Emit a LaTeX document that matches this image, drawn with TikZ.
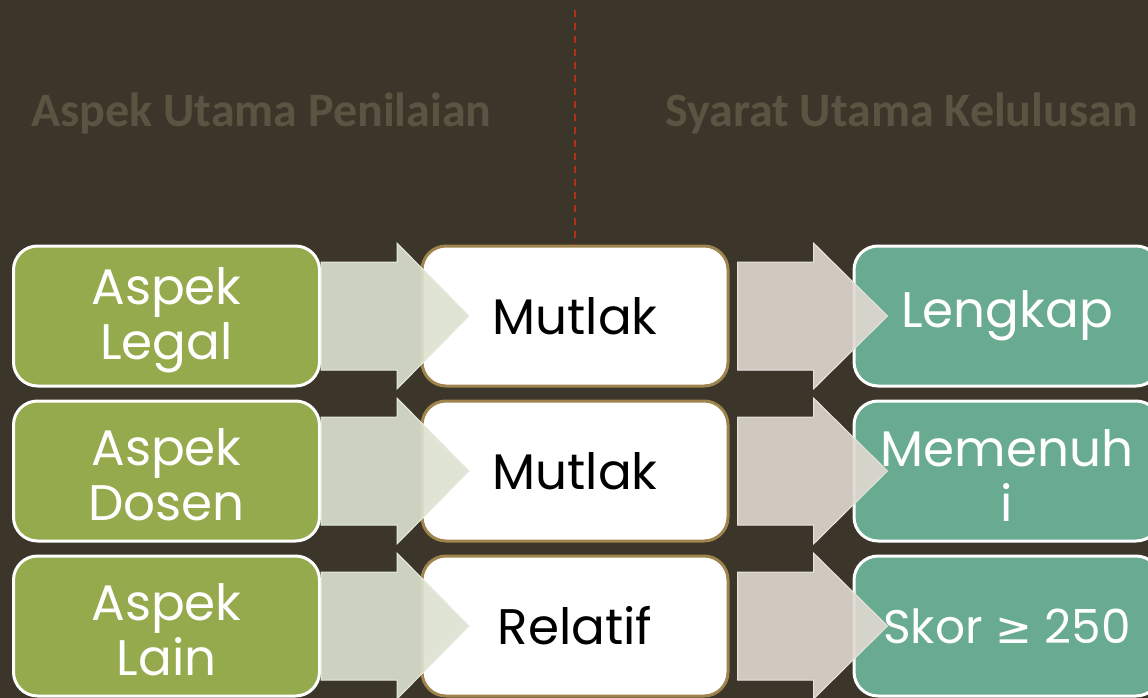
\documentclass[tikz,border=0pt]{standalone}
\usepackage{fontspec}
\setmainfont{Poppins}
\newfontfamily\titlefont{Carlito}
\newfontfamily\symfont{DejaVu Sans}
\usetikzlibrary{calc}
\definecolor{bgc}{RGB}{59,54,41}
\definecolor{titlec}{RGB}{91,84,67}
\definecolor{greenc}{RGB}{148,170,76}
\definecolor{tealc}{RGB}{104,171,145}
\definecolor{brownc}{RGB}{160,132,78}
\definecolor{dashc}{RGB}{175,50,25}
\definecolor{arrowa}{RGB}{221,226,209}
\definecolor{arrowb}{RGB}{224,217,209}
\tikzset{
  box/.style={rounded corners=24pt, line width=3pt, minimum width=306pt, minimum height=140pt,
    inner sep=0pt, align=center, font=\fontsize{50}{55}\selectfont},
  leftbox/.style={box, fill=greenc, draw=white, text=white},
  midbox/.style={box, fill=white, draw=brownc, text=black},
  rightbox/.style={box, fill=tealc, draw=white, text=white},
  arrowshape/.style={fill opacity=0.9, line width=1pt},
  titletext/.style={font=\titlefont\bfseries\fontsize{48}{50}\selectfont, text=titlec, anchor=base, inner sep=0pt}
}
\newcommand{\twolines}[2]{\raisebox{-4pt}[\height][\depth]{\parbox{300pt}{\centering #1\\#2}}}
\begin{document}
\begin{tikzpicture}[x=1pt,y=-1pt]
\useasboundingbox (0,0) rectangle (1148,698);
\fill[bgc] (0,0) rectangle (1148,698);
\clip (0,0) rectangle (1148,698);
% titles
\node[titletext] (t1) at (261.5,127) {Aspek Utama Penilaian};
\node[titletext] (t2) at (901.5,127) {Syarat Utama Kelulusan};
% boxes
\node[leftbox] (l1) at (166.5,316) {\twolines{Aspek}{Legal}};
\node[leftbox] (l2) at (166.5,471) {\twolines{Aspek}{Dosen}};
\node[leftbox] (l3) at (166.5,626) {\twolines{Aspek}{Lain}};
\node[midbox] (m1) at (575,316) {Mutlak};
\node[midbox] (m2) at (575,471) {Mutlak};
\node[midbox] (m3) at (575,626) {Relatif};
\node[rightbox] (r1) at (1007,316) {Lengkap};
\node[rightbox] (r2) at (1007,471) {\twolines{Memenuh}{i}};
\node[rightbox, font=\fontsize{47}{55}\selectfont] (r3) at (1007,626) {Skor {\symfont\fontsize{44}{55}\selectfont ≥} 250};
% dashed divider
\coordinate (dtop) at (575,10);
\draw[dashc, line width=2pt, dash pattern=on 7pt off 6pt] (dtop) -- (m1.north);
% arrows
\foreach \i in {1,2,3}{
  \draw[arrowshape, fill=arrowa, draw=arrowa!70!white]
    (l\i.east) ++(0,-54) -- ++(76,0) -- ++(0,-19) -- ++(72,73) -- ++(-72,73) -- ++(0,-19) -- ++(-76,0) -- cycle;
  \draw[arrowshape, fill=arrowb, draw=arrowb!70!white]
    (m\i.east) ++(8,-54) -- ++(76,0) -- ++(0,-19) -- ++(74,73) -- ++(-74,73) -- ++(0,-19) -- ++(-76,0) -- cycle;
}
\end{tikzpicture}
\end{document}
